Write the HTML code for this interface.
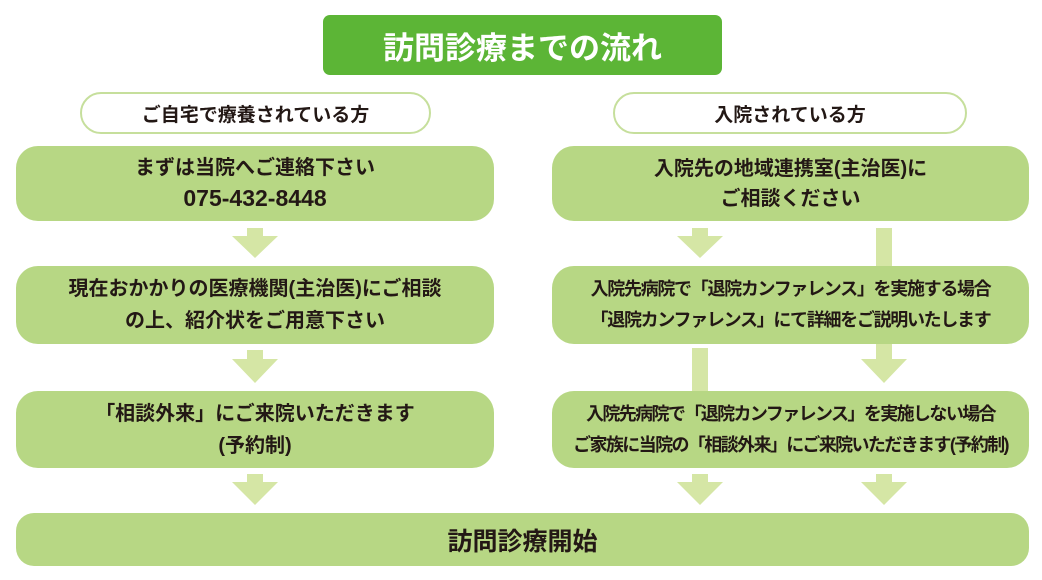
<!DOCTYPE html>
<html><head><meta charset="utf-8"><style>
body{margin:0;width:1042px;height:580px;background:#fff;overflow:hidden;position:relative;font-family:"Liberation Sans","Noto Sans CJK JP",sans-serif;font-weight:bold;color:#231815}
.a{position:absolute;box-sizing:border-box;display:flex;align-items:center;justify-content:center;text-align:center}
.b{background:#b7d784;border-radius:22px}
.p{background:#fff;border:2px solid #c6df9c;border-radius:21px;font-size:19px}
svg{position:absolute;left:0;top:0}
</style></head><body>
<svg width="1042" height="580">
<g fill="#d5e6a5">
<polygon points="247,228 263,228 263,236 278,236 255,258 232,236 247,236"/>
<polygon points="247,350 263,350 263,359 278,359 255,383 232,359 247,359"/>
<polygon points="247,474 263,474 263,482 278,482 255,505 232,482 247,482"/>
<polygon points="692,228 708,228 708,236 723,236 700,258 677,236 692,236"/>
<polygon points="876,228 892,228 892,359 907,359 884,383 861,359 876,359"/>
<rect x="692" y="348" width="16" height="50"/>
<polygon points="692,474 708,474 708,482 723,482 700,505 677,482 692,482"/>
<polygon points="876,474 892,474 892,482 907,482 884,505 861,482 876,482"/>
</g></svg>
<div class="a" style="left:323px;top:15px;width:399px;height:60px;background:#5cb536;border-radius:7px;color:#fff;font-size:31px">訪問診療までの流れ</div>
<div class="a p" style="left:80px;top:92px;width:351px;height:42px">ご自宅で療養されている方</div>
<div class="a p" style="left:613px;top:92px;width:354px;height:42px">入院されている方</div>
<div class="a b" style="left:16px;top:146px;width:478px;height:75px;font-size:20px;line-height:30px"><div>まずは当院へご連絡下さい<br><span style="font-size:23px">075-432-8448</span></div></div>
<div class="a b" style="left:552px;top:146px;width:477px;height:75px;font-size:20px;line-height:30px"><div>入院先の地域連携室(主治医)に<br>ご相談ください</div></div>
<div class="a b" style="left:16px;top:266px;width:478px;height:78px;font-size:20px;line-height:32px"><div>現在おかかりの医療機関(主治医)にご相談<br>の上、紹介状をご用意下さい</div></div>
<div class="a b" style="left:552px;top:266px;width:477px;height:78px;font-size:18px;line-height:31px;letter-spacing:-1.3px"><div>入院先病院で「退院カンファレンス」を実施する場合<br>「退院カンファレンス」にて詳細をご説明いたします</div></div>
<div class="a b" style="left:16px;top:391px;width:478px;height:77px;font-size:20px;line-height:32px"><div>「相談外来」にご来院いただきます<br>(予約制)</div></div>
<div class="a b" style="left:552px;top:391px;width:477px;height:77px;font-size:18px;line-height:31px;letter-spacing:-1.6px"><div>入院先病院で「退院カンファレンス」を実施しない場合<br>ご家族に当院の「相談外来」にご来院いただきます(予約制)</div></div>
<div class="a b" style="left:16px;top:513px;width:1013px;height:53px;font-size:25px;border-radius:18px">訪問診療開始</div>
</body></html>
